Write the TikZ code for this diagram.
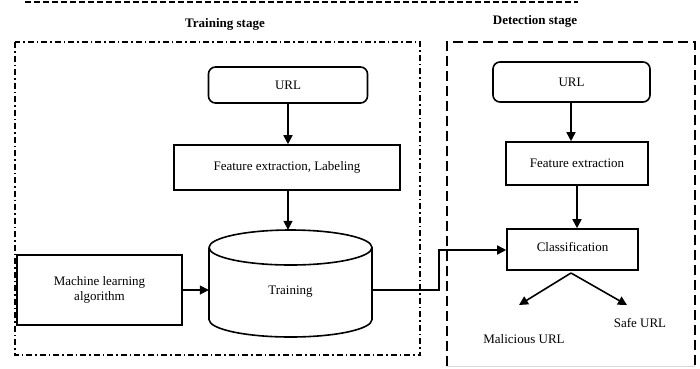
\documentclass[tikz,border=0pt]{standalone}
\usepackage{fontspec}
\setmainfont{Liberation Serif}
\usetikzlibrary{arrows.meta,shapes.misc}
\begin{document}
\begin{tikzpicture}[x=1pt,y=-1pt,
  every node/.style={font=\fontsize{13}{15}\selectfont, inner sep=0pt},
  box/.style={draw, line width=1.6pt, minimum width=#1},
  rbox/.style={draw, line width=1.6pt, rounded corners=7pt, minimum width=#1},
  arr/.style={line width=1.6pt, -{Triangle[length=9pt,width=9pt]}},
  title/.style={font=\fontsize{13}{15}\selectfont\bfseries},
  lbl/.style={font=\fontsize{13}{15}\selectfont}]
\useasboundingbox (0,0) rectangle (700,368);
% top dashed line
\draw[line width=1.8pt, dash pattern=on 6pt off 3pt] (25,2) -- (578,2);
% stage frames
\draw[line width=1.5pt, dash pattern=on 6pt off 3pt on 1.5pt off 3pt] (15,42) rectangle (420,355);
\draw[line width=1.5pt, dash pattern=on 10pt off 5pt] (447,366) -- (447,42) -- (695,42) -- (695,366);
\draw[line width=0.6pt, black!15] (447,366) -- (695,366);
\node[title] (t1) at (225,24) {Training stage};
\node[title] (t2) at (535,21) {Detection stage};
% training stage
\node[rbox=159pt, minimum height=36pt] (url1) at (288,85) {URL};
\node[box=226pt, minimum height=45pt] (fe1) at (287,167.5) {Feature extraction, Labeling};
\node[minimum width=163pt, minimum height=107pt] (train) at (290.5,283.5) {};
\draw[line width=1.6pt] (209,247.5) arc[start angle=180, end angle=-180, x radius=81.5, y radius=17.5];
\draw[line width=1.6pt] (209,247.5) -- (209,319.5) arc[start angle=180, end angle=360, x radius=81.5, y radius=-17.5] -- (372,247.5);
\node[lbl] (trainl) at (290.5,292) {Training};
\node[box=165pt, minimum height=70pt, align=center] (ml) at (99.5,290) {Machine learning\\algorithm};
\draw[arr] (url1.south -| 288,0) -- (fe1.north -| 288,0);
\draw[arr] (fe1.south -| 288,0) -- (train.north -| 288,0);
\draw[arr] (ml.east) -- (train.west |- ml.east);
% detection stage
\node[rbox=157pt, minimum height=40pt] (url2) at (571.5,82) {URL};
\node[box=142pt, minimum height=43pt] (fe2) at (577,163.5) {Feature extraction};
\node[box=131pt, minimum height=41pt, text depth=5pt] (cls) at (572.5,249.5) {Classification};
\node[lbl] (mal) at (524,339) {Malicious URL};
\node[lbl] (safe) at (640,323) {Safe URL};
\draw[arr] (url2.south -| 571,0) -- (fe2.north -| 571,0);
\draw[arr] (fe2.south) -- (cls.north -| fe2.south);
\draw[arr] (train.east |- 0,290) -- (439,290) -- (439,250) -- (cls.west |- 0,250);
\coordinate (split) at (571,273);
\coordinate (m1) at (519,305);
\coordinate (s1) at (627,305);
\draw[arr] (split) -- (m1);
\draw[arr] (split) -- (s1);
\end{tikzpicture}
\end{document}
